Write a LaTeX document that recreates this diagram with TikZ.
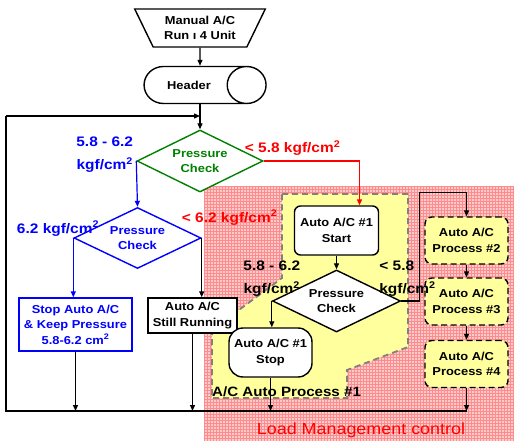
\documentclass[tikz,border=0pt]{standalone}
\usepackage{fontspec}
\setmainfont{Liberation Sans}[FakeStretch=1.12]
\usetikzlibrary{arrows.meta,positioning,shapes.geometric,patterns}
\definecolor{flowgreen}{rgb}{0.0,0.5,0.0}
\definecolor{paleyellow}{rgb}{1.0,1.0,0.62}
\definecolor{loadpink}{rgb}{0.99,0.80,0.80}
\tikzset{
  check/.style={
    diamond,
    draw,
    fill=white,
    line width=1.4pt,
    aspect=2,
    inner sep=0pt,
    minimum width=126pt,
    minimum height=62pt,
    align=center,
    font=\bfseries\fontsize{11.5}{15.5}\selectfont
  },
  caja/.style={
    rectangle,
    draw,
    fill=white,
    line width=1.4pt,
    align=center,
    inner sep=2pt,
    font=\bfseries\fontsize{11.5}{15.5}\selectfont
  },
  proceso/.style={
    caja,
    rounded corners=7pt,
    dash pattern=on 6pt off 3.5pt,
    fill=paleyellow,
    minimum width=83pt,
    minimum height=47pt
  },
  etiqueta/.style={
    inner sep=0pt,
    align=center,
    font=\bfseries\fontsize{13.8}{23}\selectfont
  },
  flecha/.style={
    -{Triangle[length=6pt,width=5pt]},
    line width=1.2pt
  }
}
\begin{document}
\begin{tikzpicture}[x=1pt,y=-1pt,node distance=60pt,on grid]
\useasboundingbox (0,0) rectangle (514,441);
% zonas de fondo
\fill[loadpink] (204,186) rectangle (514,441);
\fill[pattern=grid,pattern color=red!45] (204,186) rectangle (514,441);
\draw[gray,line width=1.8pt,dash pattern=on 6pt off 4pt,fill=paleyellow]
  (282,194) -- (408,194) -- (408,347) -- (347,370) -- (347,398)
  -- (212,398) -- (212,330) -- (282,278) -- cycle;
\node[red,font=\fontsize{16}{18}\selectfont] (lmc) at (361,430) {Load Management control};
\node[anchor=base west,font=\bfseries\fontsize{13.5}{16}\selectfont,inner sep=0pt] (ap1) at (212,396) {A/C Auto Process \#1};

% flujo principal
\node[trapezium,draw,line width=1.4pt,trapezium left angle=59,trapezium right angle=59,
  shape border rotate=180,trapezium stretches=true,minimum width=131pt,minimum height=38pt,
  inner sep=0pt,align=center,font=\bfseries\fontsize{11.5}{15}\selectfont] (manual) at (200,28)
  {Manual A/C\\Run ı 4 Unit};
\node[cylinder,draw,line width=1.4pt,shape aspect=4.6,minimum height=122pt,minimum width=37pt,
  inner sep=0pt,font=\bfseries\fontsize{11.5}{15}\selectfont,below=57pt of manual,xshift=-5pt] (header) {Header\hspace*{12pt}};
\node[check,draw=flowgreen,text=flowgreen,below=133pt of manual] (d1) {Pressure\\Check};
\node[check,draw=blue,text=blue,minimum width=127pt,minimum height=61pt,
  below left=77pt and 62.5pt of d1] (d2) {Pressure\\Check};
\node[caja,draw=blue,text=blue,minimum width=113pt,minimum height=53pt,
  below left=86.5pt and 62pt of d2] (stop) {Stop Auto A/C\\\& Keep Pressure\\5.8-6.2 cm\textsuperscript{2}};
\node[caja,minimum width=89pt,minimum height=35pt,
  below right=77.5pt and 55pt of d2] (run) {Auto A/C\\Still Running};

% proceso #1
\node[caja,rounded corners=6pt,minimum width=84pt,minimum height=49pt,
  below right=69.5pt and 136.5pt of d1] (start) {Auto A/C \#1\\Start};
\node[check,minimum width=128pt,minimum height=62pt,below=70.5pt of start] (d3) {Pressure\\Check};
\node[caja,rounded corners=14pt,minimum width=83pt,minimum height=49pt,
  below left=51.5pt and 66pt of d3] (stop1) {Auto A/C \#1\\Stop};

% procesos 2-4
\node[proceso,below right=10pt and 130pt of start] (p2) {Auto A/C\\Process \#2};
\node[proceso,below=61pt of p2] (p3) {Auto A/C\\Process \#3};
\node[proceso,below=62.5pt of p3] (p4) {Auto A/C\\Process \#4};

\coordinate (entrada) at (200,116);
\coordinate (retorno) at (6,411);

% conectores
\draw[flecha] (manual) -- (manual |- header.north);
\draw[flecha] (d1 |- header.south) -- (d1);
\draw[line width=1.2pt] (p4.south |- retorno) -- (retorno) |- (6,116);
\draw[flecha] (6,116) -- (entrada);
\draw[flecha,red] (d1.east) -| ([xshift=23pt]start.north);
\draw[flecha,blue] (d1.west) -- (d2.north);
\draw[flecha,blue] (d2.west) -- (d2.west |- stop.north);
\draw[flecha] (d2.east) -- (d2.east |- run.north);
\draw[flecha] (stop.south) -- (stop.south |- retorno);
\draw[flecha] (run.south) -- (run.south |- retorno);
\draw[flecha] (start) -- (d3);
\draw[flecha] (d3.west) -- (d3.west |- stop1.north);
\draw[flecha] (stop1.south) -- (stop1.south |- retorno);
\draw[flecha] (d3.east) -- ++(18,0) |- ([yshift=24pt]p2.north) -- (p2.north);
\draw[flecha] (p2) -- (p3);
\draw[flecha] (p3) -- (p4);
\draw[flecha] (p4.south) -- (p4.south |- retorno);

% etiquetas
\node[etiqueta,blue,anchor=east] (l1) at ([xshift=-3pt,yshift=6pt]d1.west) {5.8 - 6.2\\kgf/cm\textsuperscript{2}};
\node[etiqueta,red,anchor=base west] (l2) at ([xshift=-19pt,yshift=8pt]d1.east) {< 5.8 kgf/cm\textsuperscript{2}};
\node[etiqueta,blue,anchor=base east] (l3) at ([xshift=26pt,yshift=5pt]d2.west) {6.2 kgf/cm\textsuperscript{2}};
\node[etiqueta,red,anchor=base west] (l4) at ([xshift=-20pt,yshift=16pt]d2.east) {< 6.2 kgf/cm\textsuperscript{2}};
\node[etiqueta,anchor=south] (l5) at ([yshift=4pt]d3.west) {5.8 - 6.2\\kgf/cm\textsuperscript{2}};
\node[etiqueta,anchor=south west,align=left] (l6) at ([xshift=-22pt,yshift=4pt]d3.east) {< 5.8\\kgf/cm\textsuperscript{2}};
\end{tikzpicture}
\end{document}
